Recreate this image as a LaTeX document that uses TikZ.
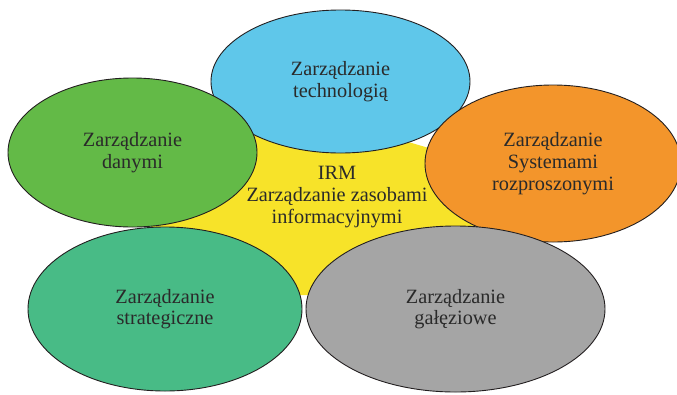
\documentclass[tikz,border=0pt]{standalone}
\usepackage{fontspec}
\setmainfont{Liberation Serif}
\usetikzlibrary{shapes.geometric}
\definecolor{cblue}{HTML}{5FC7EA}
\definecolor{cgreen}{HTML}{63BA47}
\definecolor{corange}{HTML}{F3952B}
\definecolor{cteal}{HTML}{48BB86}
\definecolor{cgray}{HTML}{A5A5A5}
\definecolor{cyellow}{HTML}{F7E329}
\definecolor{cline}{HTML}{231F20}
\definecolor{ctext}{HTML}{2A2A2A}
\begin{document}
\begin{tikzpicture}[x=1pt,y=-1pt,
  txt/.style={inner sep=0pt, align=center, text=ctext, font=\fontsize{20.3}{21.7}\selectfont},
  bubble/.style={ellipse, draw=cline, line width=0.9pt, txt}
]
\useasboundingbox (0,0) rectangle (677,394);
\clip (0,0) rectangle (677,394);
\fill[cyellow] (150,228) -- (240,128) -- (340,122) -- (480,163) -- (485,250) -- (420,295) -- (260,295) -- (200,262) -- cycle;
\node[txt] (irm) at (337,197) {IRM\\Zarządzanie zasobami\\informacyjnymi};
\node[bubble, fill=cblue, minimum width=259pt, minimum height=143pt] (tech) at (340.5,81.5) {Zarządzanie\\technologią};
\node[bubble, fill=cgreen, minimum width=249pt, minimum height=149pt] (data) at (132.5,152.5) {Zarządzanie\\danymi};
\node[bubble, fill=corange, minimum width=256pt, minimum height=157pt] (sys) at (553,163.5) {Zarządzanie\\Systemami\\rozproszonymi};
\node[bubble, fill=cteal, minimum width=274pt, minimum height=164pt] (strat) at (165,309) {Zarządzanie\\strategiczne};
\node[bubble, fill=cgray, minimum width=299pt, minimum height=166pt] (branch) at (455.5,309) {Zarządzanie\\gałęziowe};
\end{tikzpicture}
\end{document}
